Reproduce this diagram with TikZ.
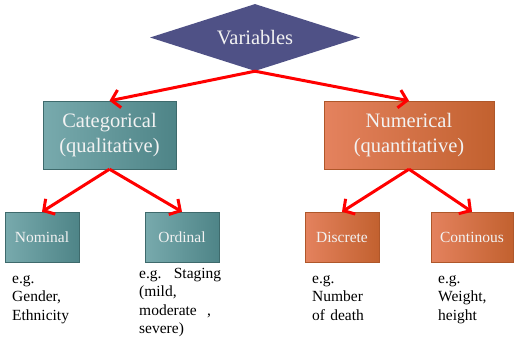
\documentclass[tikz,border=0pt]{standalone}
\usepackage{fontspec}
\setmainfont{Liberation Serif}
\usetikzlibrary{shapes.geometric,arrows.meta}
\definecolor{diam}{HTML}{4F5186}
\definecolor{tealL}{HTML}{78AAAD}
\definecolor{tealR}{HTML}{4E8487}
\definecolor{orgL}{HTML}{E4825E}
\definecolor{orgR}{HTML}{C2612F}
\definecolor{txtw}{HTML}{F2F2F2}
\tikzset{
  bigfont/.style={font=\fontsize{20.5}{25}\selectfont},
  smallfont/.style={font=\fontsize{15.5}{18}\selectfont},
  tealbox/.style={left color=tealL,right color=tealR,draw=tealR!80!black,line width=0.4pt,text=txtw,align=center,inner sep=0},
  orgbox/.style={left color=orgL,right color=orgR,draw=orgR!90!black,line width=0.4pt,text=txtw,align=center,inner sep=0},
  note/.style={font=\fontsize{15.5}{18.5}\selectfont,anchor=north west,inner sep=0,align=left,text=black},
  redarrow/.style={draw=red,line width=3pt,-{Straight Barb[length=8pt,width=18pt,line width=3pt]}}
}
\begin{document}
\begin{tikzpicture}[x=1pt,y=-1pt]
\useasboundingbox (0,0) rectangle (514,337);
% root
\node[diamond,fill=diam,text=txtw,bigfont,minimum width=210pt,minimum height=67pt,inner sep=0,aspect=3.1] (var) at (255,37.5) {Variables};
% level 1
\node[tealbox,bigfont,minimum width=133pt,minimum height=68pt] (cat) at (109.5,135) {Categorical\\(qualitative)};
\node[orgbox,bigfont,minimum width=170pt,minimum height=68pt] (num) at (409,135) {Numerical\\(quantitative)};
% level 2
\node[tealbox,smallfont,minimum width=74pt,minimum height=50pt] (nom) at (42,237) {Nominal};
\node[tealbox,smallfont,minimum width=74pt,minimum height=50pt] (ord) at (182,237) {Ordinal};
\node[orgbox,smallfont,minimum width=74pt,minimum height=50pt] (dis) at (342,237) {Discrete};
\node[orgbox,smallfont,minimum width=82pt,minimum height=50pt] (con) at (472,237) {Continous};
% notes
\node[note,text width=70pt] (nnom) at (12,270) {\strut e.g.\\Gender,\\Ethnicity};
\node[note,text width=82pt] (nord) at (139,265) {\strut e.g.\hfill Staging\\(mild,\\moderate\ \ ,\\severe)};
\node[note,text width=70pt] (ndis) at (312,270) {\strut e.g.\\Number\\of death};
\node[note,text width=70pt] (ncon) at (438,270) {\strut e.g.\\Weight,\\height};
% arrows
\draw[redarrow] (var.south) -- (cat.north);
\draw[redarrow] (var.south) -- (num.north);
\draw[redarrow] (cat.south) -- (nom.north);
\draw[redarrow] (cat.south) -- (ord.north);
\draw[redarrow] (num.south) -- (dis.north);
\draw[redarrow] (num.south) -- (con.north);
\end{tikzpicture}
\end{document}
